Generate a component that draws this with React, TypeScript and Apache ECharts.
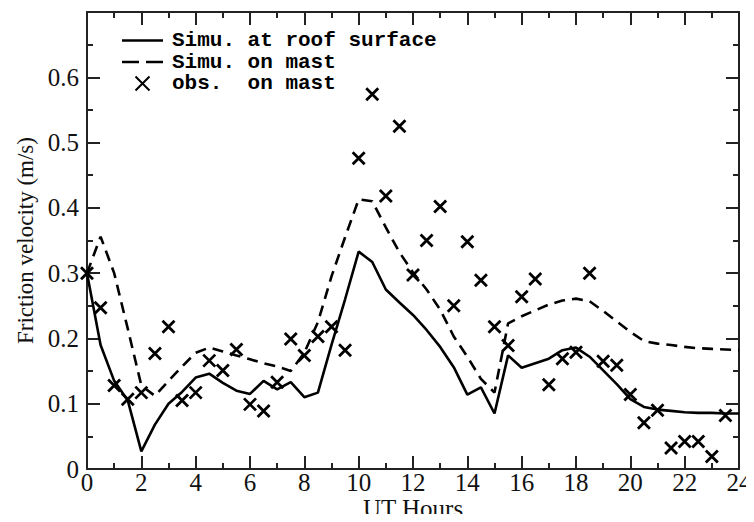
import React, { useEffect, useRef } from "react";
import * as echarts from "echarts";

// UT hours (half-hourly simulation output)
const simHours = [
  0, 0.5, 1, 1.5, 2, 2.5, 3, 3.5, 4, 4.5, 5, 5.5, 6, 6.5, 7, 7.5, 8, 8.5, 9, 9.5,
  10, 10.5, 11, 11.5, 12, 12.5, 13, 13.5, 14, 14.5, 15, 15.5, 16, 16.5, 17, 17.5,
  18, 18.5, 19, 19.5, 20, 20.5, 21, 21.5, 22, 22.5, 23, 23.5, 24,
];

// Simu. at roof surface (m/s)
const roofSim = [
  0.3, 0.19, 0.135, 0.105, 0.027, 0.068, 0.1, 0.118, 0.14, 0.146, 0.132, 0.12,
  0.115, 0.135, 0.122, 0.133, 0.11, 0.117, 0.19, 0.26, 0.333, 0.317, 0.275,
  0.255, 0.236, 0.213, 0.187, 0.156, 0.114, 0.125, 0.085, 0.174, 0.155, 0.162,
  0.169, 0.182, 0.186, 0.172, 0.151, 0.13, 0.107, 0.095, 0.091, 0.089, 0.087,
  0.086, 0.086, 0.085, 0.085,
];

// Simu. on mast (m/s)
const mastSim = [
  0.3, 0.356, 0.3, 0.215, 0.128, 0.112, 0.135, 0.157, 0.178, 0.186, 0.18, 0.174,
  0.168, 0.162, 0.157, 0.15, 0.178, 0.225, 0.295, 0.355, 0.413, 0.41, 0.37,
  0.332, 0.301, 0.275, 0.244, 0.203, 0.172, 0.138, 0.117, 0.223, 0.234, 0.243,
  0.252, 0.258, 0.261, 0.257, 0.242, 0.226, 0.21, 0.196, 0.192, 0.19, 0.187,
  0.185, 0.184, 0.183, 0.182,
];

// obs. on mast
const obsHours = [
  0, 0.5, 1, 1.5, 2, 2.5, 3, 3.5, 4, 4.5, 5, 5.5, 6, 6.5, 7, 7.5, 8, 8.5, 9, 9.5,
  10, 10.5, 11, 11.5, 12, 12.5, 13, 13.5, 14, 14.5, 15, 15.5, 16, 16.5, 17, 17.5,
  18, 18.5, 19, 19.5, 20, 20.5, 21, 21.5, 22, 22.5, 23, 23.5,
];
const obsMast = [
  0.3, 0.247, 0.128, 0.107, 0.117, 0.177, 0.218, 0.105, 0.117, 0.166, 0.151,
  0.183, 0.099, 0.089, 0.133, 0.199, 0.174, 0.203, 0.218, 0.182, 0.476, 0.574,
  0.418, 0.525, 0.297, 0.35, 0.402, 0.25, 0.348, 0.289, 0.218, 0.189, 0.264,
  0.291, 0.129, 0.169, 0.179, 0.3, 0.165, 0.159, 0.114, 0.071, 0.09, 0.032,
  0.042, 0.042, 0.019, 0.082,
];

const xTicks = { min: 0, max: 24, interval: 2 };
const yTicks = { min: 0, max: 0.7, interval: 0.1 };

const seriesNames = ["Simu. at roof surface", "Simu. on mast", "obs.  on mast"];

export default function App() {
  const ref = useRef<HTMLDivElement>(null);

  useEffect(() => {
    if (!ref.current) return;
    const chart = echarts.init(ref.current, null, { renderer: "svg" });
    const axisColor = "#222";
    const serif = "'Liberation Serif', 'Times New Roman', serif";

    const commonTick = {
      axisLine: { show: true, onZero: false, lineStyle: { color: axisColor, width: 2 } },
      axisTick: { show: true, inside: true, length: 13, lineStyle: { color: axisColor, width: 2 } },
      minorTick: { show: true, splitNumber: 2, length: 6, lineStyle: { color: axisColor, width: 2 } },
      splitLine: { show: false },
      minorSplitLine: { show: false },
    };

    chart.setOption({
      animation: false,
      backgroundColor: "#fff",
      grid: {
        left: 87,
        right: 15,
        top: 12,
        bottom: 53,
        containLabel: false,
        outerBoundsMode: "none",
      },
      legend: {
        orient: "vertical",
        left: 117,
        top: 25,
        itemWidth: 41,
        itemHeight: 14,
        itemGap: 0.5,
        selectedMode: false,
        textStyle: {
          fontFamily: "'Liberation Mono', 'DejaVu Sans Mono', monospace",
          fontWeight: "bold",
          fontSize: 21,
          color: "#000",
          padding: [0, 0, 0, 4],
        },
        data: [
          {
            name: seriesNames[0],
            icon: "path://M0,0H41V2.6H0Z",
            itemStyle: { color: "#000", borderWidth: 0 },
          },
          {
            name: seriesNames[1],
            icon: "path://M0,0H17V2.6H0ZM24,0H41V2.6H24Z",
            itemStyle: { color: "#000", borderWidth: 0 },
          },
          { name: seriesNames[2] },
        ],
      },
      xAxis: [
        {
          type: "value",
          position: "bottom",
          ...xTicks,
          ...commonTick,
          axisLabel: { fontFamily: serif, fontSize: 25, color: "#111", margin: 1 },
          name: "UT Hours",
          nameLocation: "middle",
          nameGap: 27,
          nameMoveOverlap: false,
          nameTextStyle: { fontFamily: serif, fontSize: 25, color: "#111" },
        },
        {
          type: "value",
          position: "top",
          ...xTicks,
          ...commonTick,
          axisLabel: { show: false },
        },
      ],
      yAxis: [
        {
          type: "value",
          position: "left",
          ...yTicks,
          ...commonTick,
          axisLabel: {
            fontFamily: serif,
            fontSize: 25,
            color: "#111",
            margin: 8,
            formatter: (v: number) => (v > 0.65 ? "" : v === 0 ? "0" : v.toFixed(1)),
          },
          name: "Friction velocity (m/s)",
          nameLocation: "middle",
          nameGap: 50,
          nameTextStyle: { fontFamily: serif, fontSize: 23, color: "#111" },
        },
        {
          type: "value",
          position: "right",
          ...yTicks,
          ...commonTick,
          axisLabel: { show: false },
        },
      ],
      series: [
        {
          name: seriesNames[0],
          type: "line",
          xAxisIndex: 0,
          yAxisIndex: 0,
          symbol: "none",
          data: simHours.map((h, i) => [h, roofSim[i]]),
          lineStyle: { color: "#000", width: 2.6 },
          itemStyle: { color: "#000" },
        },
        {
          name: seriesNames[1],
          type: "line",
          xAxisIndex: 0,
          yAxisIndex: 0,
          symbol: "none",
          data: simHours.map((h, i) => [h, mastSim[i]]),
          lineStyle: { color: "#000", width: 2.6, type: [11, 7] },
          itemStyle: { color: "#000" },
        },
        {
          name: seriesNames[2],
          type: "scatter",
          xAxisIndex: 0,
          yAxisIndex: 0,
          symbol: "path://M0,0L10,10M0,10L10,0",
          symbolSize: 12,
          symbolKeepAspect: true,
          data: obsHours.map((h, i) => [h, obsMast[i]]),
          itemStyle: { color: "#000", borderColor: "#000", borderWidth: 2.8, opacity: 1 },
        },
      ],
    });
    return () => chart.dispose();
  }, []);

  return <div ref={ref} style={{ width: 754, height: 522, margin: -8 }} />;
}
